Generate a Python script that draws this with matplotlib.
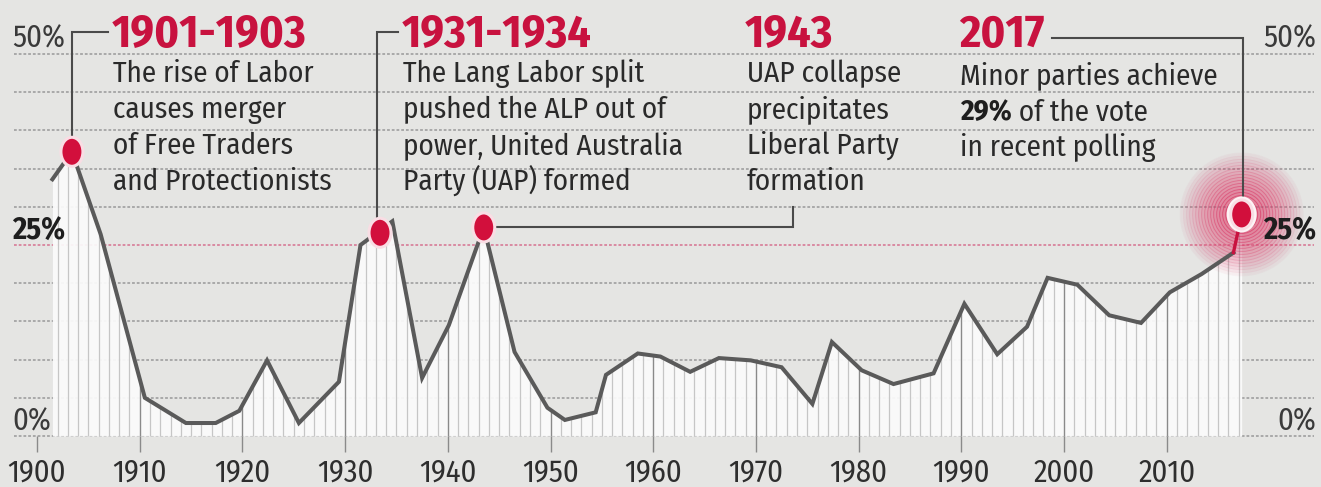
import numpy as np
import matplotlib
matplotlib.use("Agg")
import matplotlib.pyplot as plt
from matplotlib.transforms import Affine2D
from matplotlib.patches import Ellipse

# ---------------- data ----------------
years = [1901.5, 1903.4, 1906.2, 1910.5, 1914.5, 1917.4, 1919.7, 1922.4, 1925.5,
         1929.4, 1931.5, 1934.6, 1937.5, 1940.1, 1943.5, 1946.5, 1949.7, 1951.4,
         1954.4, 1955.4, 1958.5, 1960.7, 1963.6, 1966.4, 1969.5, 1972.5, 1975.5,
         1977.4, 1980.3, 1983.4, 1987.3, 1990.3, 1993.5, 1996.4, 1998.4, 2001.3,
         2004.4, 2007.5, 2010.3, 2013.4, 2016.5]
values = [33.6, 37.2, 26.4, 5.0, 1.7, 1.7, 3.3, 9.9, 1.7,
          7.1, 25.0, 28.1, 7.6, 14.5, 27.3, 11.0, 3.7, 2.1,
          3.1, 8.0, 10.8, 10.4, 8.4, 10.2, 9.9, 9.0, 4.2,
          12.3, 8.6, 6.8, 8.2, 17.3, 10.7, 14.3, 20.7, 19.8,
          15.8, 14.8, 18.8, 21.2, 24.0]

event_years = [1903.4, 1933.4, 1943.5, 2017.3]
event_values = [37.2, 26.6, 27.3, 29.0]
event_titles = ["1901-1903", "1931-1934", "1943", "2017"]
event_texts = [
    ["The rise of Labor", "causes merger", "of Free Traders", "and Protectionists"],
    ["The Lang Labor split", "pushed the ALP out of", "power, United Australia", "Party (UAP) formed"],
    ["UAP collapse", "precipitates", "Liberal Party", "formation"],
    ["Minor parties achieve", "29%| of the vote", "in recent polling"],
]
x_ticks = [1900, 1910, 1920, 1930, 1940, 1950, 1960, 1970, 1980, 1990, 2000, 2010]
y_ticks = [0, 5, 10, 15, 20, 25, 30, 35, 40, 45, 50]
y_labels = {0: "0%", 25: "25%", 50: "50%"}

# ---------------- setup ----------------
W, H = 1321, 487
DPI = 100
FAMS = ['Fira Sans Condensed', 'Archivo Narrow', 'Liberation Sans', 'DejaVu Sans']
plt.rcParams['font.family'] = FAMS
plt.rcParams['lines.scale_dashes'] = False

BG = '#e5e5e3'
RED = '#c8123f'
DOT = '#d20f3c'
TXT = '#2a2a2a'
LINE = '#5a5a5a'

fig = plt.figure(figsize=(W / DPI, H / DPI), dpi=DPI, facecolor=BG)
ax = fig.add_axes([0, 0, 1, 1])
ax.set_facecolor(BG)

PX_PER_YEAR = 10.27
PX_PER_PCT = 7.64
X0 = 1900 - 37 / PX_PER_YEAR
X1 = X0 + W / PX_PER_YEAR
Y0 = -(H - 436) / PX_PER_PCT
Y1 = Y0 + H / PX_PER_PCT
ax.set_xlim(X0, X1)
ax.set_ylim(Y0, Y1)
ax.axis('off')

# pixel transform (origin top-left)
PX = Affine2D().scale(1 / W, -1 / H).translate(0, 1) + fig.transFigure

# ---------------- gridlines ----------------
gx0 = X0 + 14 / PX_PER_YEAR
gx1 = X0 + 1314 / PX_PER_YEAR
for v in y_ticks:
    col = '#d98aa2' if v == 25 else '#a9a9a9'
    ax.hlines(v, gx0, gx1, colors=col, lw=1.4, linestyles=(0, (2.0, 1.4)), zorder=1)

# ---------------- area fill with year lines ----------------
fx = np.array(years + [event_years[-1]])
fv = np.array(values + [event_values[-1]])
ax.fill_between(fx, 0, fv, color='#fbfbfb', alpha=0.93, lw=0, zorder=2)
yr_int = np.arange(int(np.ceil(fx[0])), int(np.floor(fx[-1])) + 1)
tops = np.interp(yr_int, fx, fv)
minor = yr_int % 10 != 0
ax.vlines(yr_int[minor], 0, tops[minor], colors='#c6c6c6', lw=0.9, zorder=3)
ax.vlines(yr_int[~minor], 0, tops[~minor], colors='#8a8a8a', lw=1.0, zorder=3)
# decade ticks below axis
ax.vlines(x_ticks, Y0 + (H - 452) / PX_PER_PCT, 0, colors='#8a8a8a', lw=1.0, zorder=3)

# ---------------- curve ----------------
ax.plot(years, values, color=LINE, lw=2.9, solid_joinstyle='miter', zorder=5)
ax.plot([years[-1], event_years[-1]], [values[-1], event_values[-1]],
        color=RED, lw=2.4, zorder=5)

# ---------------- glow around 2017 ----------------
gxc, gyc = event_years[-1], event_values[-1]
for r in np.linspace(62, 14, 30):
    ax.add_patch(Ellipse((gxc, gyc), 2 * r / PX_PER_YEAR, 2 * r / PX_PER_PCT,
                         facecolor='#e0567e', edgecolor='none', alpha=0.035, zorder=4))
for r in np.arange(16, 62, 3.0):
    a = 0.6 * (1 - (r - 16) / 48) ** 1.2
    ax.add_patch(Ellipse((gxc, gyc), 2 * r / PX_PER_YEAR, 2 * r / PX_PER_PCT,
                         facecolor='none', edgecolor='#d8285a', lw=0.7, alpha=a, zorder=4))
ax.add_patch(Ellipse((gxc, gyc), 2 * 15 / PX_PER_YEAR, 2 * 18 / PX_PER_PCT,
                     facecolor='#fdf3f5', edgecolor='none', zorder=6))

# ---------------- connectors (pixel-space corners) ----------------
def px2d(x, y):
    return X0 + x / PX_PER_YEAR, Y0 + (H - y) / PX_PER_PCT

conn = [
    [(108, 32), (72, 32)],
    [(398, 32), (377, 32)],
    [(793, 207), (793, 225)],
    [(1052, 38), (1243, 38)],
]
for (ex, ev), pts in zip(zip(event_years, event_values), conn):
    xs = [px2d(*p)[0] for p in pts]
    ys = [px2d(*p)[1] for p in pts]
    if pts[0][0] == pts[1][0]:
        xs = xs + [ex]
        ys = ys + [ev]
        ys[1] = ev
    else:
        xs = xs + [xs[-1]]
        ys = ys + [ev]
    ax.plot(xs, ys, color='#4a4a4a', lw=1.5, solid_joinstyle='miter', zorder=5.5)

# ---------------- dots ----------------
for ex, ev in zip(event_years, event_values):
    ax.add_patch(Ellipse((ex, ev), 22 / PX_PER_YEAR, 29 / PX_PER_PCT,
                         facecolor=DOT, edgecolor='#f9dde4', lw=2.2, zorder=7))

# ---------------- texts ----------------
title_pos = [(112, 47), (402, 47), (745, 47), (959, 47)]
body_base = [(113, 82), (403, 82), (747, 82), (960, 84)]
LSP = 36
TSIZE = 33
BSIZE = 21
for title, lines, (tx, ty), (bx, by) in zip(event_titles, event_texts, title_pos, body_base):
    fig.text(tx, ty, title, transform=PX, fontsize=TSIZE, fontweight='bold', color=RED,
             ha='left', va='baseline', zorder=10)
    for i, line in enumerate(lines):
        yy = by + i * LSP
        if '|' in line:
            bold, rest = line.split('|')
            tb = fig.text(bx, yy, bold, transform=PX, fontsize=BSIZE, fontweight='bold',
                          color='#1e1e1e', ha='left', va='baseline', zorder=10)
            ax.annotate(rest, xy=(1, 0), xycoords=tb, va='bottom', ha='left',
                        fontsize=BSIZE, color=TXT, annotation_clip=False, zorder=10)
        else:
            fig.text(bx, yy, line, transform=PX, fontsize=BSIZE, color=TXT,
                     ha='left', va='baseline', zorder=10)

# y labels on both sides
ybase = {50: 47, 25: 240, 0: 430}
for v, lab in y_labels.items():
    w = 'bold' if v == 25 else 'normal'
    c = '#1e1e1e' if v == 25 else '#3a3a3a'
    fig.text(12, ybase[v], lab, transform=PX, fontsize=22, fontweight=w, color=c,
             ha='left', va='baseline')
    fig.text(1316, ybase[v], lab, transform=PX, fontsize=22, fontweight=w, color=c,
             ha='right', va='baseline')

# x tick labels
for xt in x_ticks:
    ax.text(xt, Y0 + (H - 482) / PX_PER_PCT, str(xt), fontsize=22, color='#2e2e2e',
            ha='center', va='baseline')

fig.savefig('out.png', dpi=DPI, facecolor=BG)
